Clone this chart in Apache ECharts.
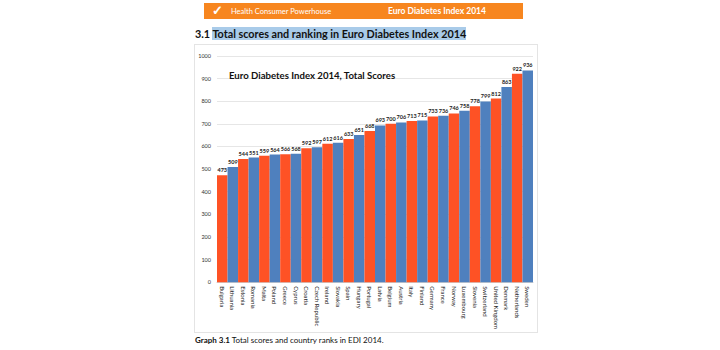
<!DOCTYPE html>
<html>
<head>
<meta charset="utf-8">
<script src="https://cdn.jsdelivr.net/npm/echarts@6/dist/echarts.min.js"></script>
<style>
  html, body { margin: 0; padding: 0; background: #fff; }
  .page { position: relative; width: 720px; height: 350px; overflow: hidden; font-family: Lato, "Open Sans", sans-serif; }
  .header { position: absolute; left: 204px; top: 3px; width: 319px; height: 16px; background: #f7861f; color: #fff; }
  .header .logo { position: absolute; left: 8px; top: 1px; font-size: 13px; font-weight: bold; line-height: 13px; }
  .header .org { position: absolute; left: 27px; top: 4px; font-size: 7.5px; line-height: 10px; }
  .header .idx { position: absolute; left: 184px; top: 3px; font-size: 8.5px; font-weight: bold; line-height: 10px; }
  .heading { position: absolute; left: 195px; top: 27px; font-size: 10.8px; font-weight: bold; line-height: 13px; color: #111; white-space: nowrap; }
  .heading .hl { background: #a9cbe9; }
  .chart-box { position: absolute; left: 194px; top: 44px; width: 342px; height: 287px; border: 1px solid #e4e4e4; }
  #chart { width: 342px; height: 287px; }
  .caption { position: absolute; left: 195px; top: 335px; font-size: 8px; line-height: 10px; color: #111; white-space: nowrap; }
</style>
</head>
<body>
<div class="page">
  <div class="header">
    <span class="logo">&#10003;</span>
    <span class="org">Health Consumer Powerhouse</span>
    <span class="idx">Euro Diabetes Index 2014</span>
  </div>
  <div class="heading">3.1 <span class="hl">Total scores and ranking in Euro Diabetes Index 2014</span></div>
  <div class="chart-box"><div id="chart"></div></div>
  <div class="caption"><b>Graph 3.1</b> Total scores and country ranks in EDI 2014.</div>
</div>
<script>
const countries = ['Bulgaria', 'Lithuania', 'Estonia', 'Romania', 'Malta', 'Poland', 'Greece', 'Cyprus',
  'Croatia', 'Czech Republic', 'Ireland', 'Slovakia', 'Spain', 'Hungary', 'Portugal', 'Latvia',
  'Belgium', 'Austria', 'Italy', 'Finland', 'Germany', 'France', 'Norway', 'Luxembourg',
  'Slovenia', 'Switzerland', 'United Kingdom', 'Denmark', 'Netherlands', 'Sweden']
const scores = [473, 509, 544, 551, 559, 564, 566, 568, 592, 597, 612, 616, 633, 651, 668, 693,
  700, 706, 713, 715, 733, 736, 746, 758, 778, 799, 812, 863, 922, 936]
const barColors = ['#fe5225', '#4f80be']

const chart = echarts.init(document.getElementById('chart'), null, { renderer: 'svg' })

chart.setOption({
  animation: false,
  textStyle: { fontFamily: 'Lato, "Open Sans", sans-serif' },
  title: {
    text: 'Euro Diabetes Index 2014, Total Scores',
    left: 29,
    top: 20,
    textStyle: { fontSize: 9.6, fontWeight: 'bold', color: '#111' }
  },
  grid: { left: 22, right: 4, top: 11, bottom: 39 },
  xAxis: {
    type: 'category',
    data: countries,
    axisLine: { lineStyle: { color: '#d0d0d0' } },
    axisTick: { show: false },
    axisLabel: { interval: 0, rotate: -90, fontSize: 6, color: '#222', margin: 4 }
  },
  yAxis: {
    type: 'value',
    min: 0,
    max: 1000,
    interval: 100,
    axisLabel: { fontSize: 5.5, color: '#333', margin: 6, formatter: v => String(v) },
    splitLine: { lineStyle: { color: '#e6e6e6' } }
  },
  series: [{
    type: 'bar',
    barCategoryGap: '0%',
    data: scores.map((v, i) => ({ value: v, itemStyle: { color: barColors[i % 2] } })),
    label: { show: true, position: 'top', fontSize: 5.5, fontWeight: 'bold', color: '#222', distance: 2 }
  }]
})
</script>
</body>
</html>
